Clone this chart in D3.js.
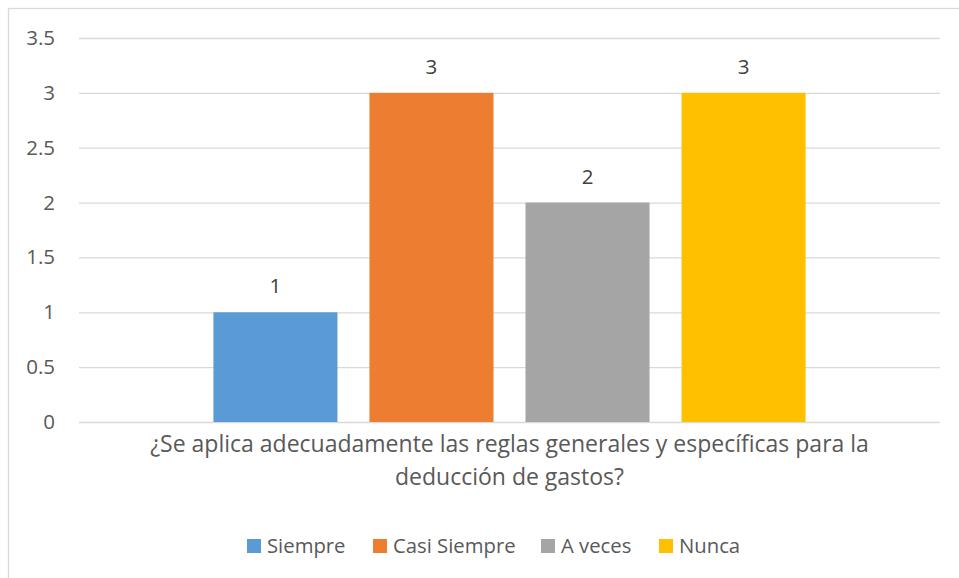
<!DOCTYPE html>
<html>
<head>
<meta charset="utf-8">
<script src="https://cdn.jsdelivr.net/npm/d3@7"></script>
<style>
  body { margin: 0; background: #fff; }
  text { font-family: "Open Sans", "Noto Sans", sans-serif; fill: #595959; }
</style>
</head>
<body>
<div id="chart"></div>
<script>
// data
var categories = ["¿Se aplica adecuadamente las reglas generales y específicas para la deducción de gastos?"];
var categoryLines = ["¿Se aplica adecuadamente las reglas generales y específicas para la", "deducción de gastos?"];
var seriesNames = ["Siempre", "Casi Siempre", "A veces", "Nunca"];
var seriesValues = [1, 3, 2, 3];
var seriesColors = ["#5B9BD5", "#ED7D31", "#A5A5A5", "#FFC000"];
var yTicks = [0, 0.5, 1, 1.5, 2, 2.5, 3, 3.5];

var W = 959, H = 578;
var plot = {left: 79, right: 940, top: 38, bottom: 422};

var svg = d3.select('#chart').append('svg')
    .attr('width', W).attr('height', H);

// chart border
svg.append('rect')
    .attr('x', 8.5).attr('y', 8.5)
    .attr('width', W).attr('height', H)
    .attr('fill', 'none').attr('stroke', '#d9d9d9').attr('stroke-width', 1.3);

var y = d3.scaleLinear().domain([0, 3.5]).range([plot.bottom, plot.top]);
var x0 = d3.scaleBand().domain(categories).range([plot.left, plot.right])
    .paddingInner(0).paddingOuter(0.227);
var x1 = d3.scaleBand().domain(seriesNames).range([0, x0.bandwidth()])
    .paddingInner(0.205).paddingOuter(0);

// gridlines + tick labels
var yAxis = d3.axisLeft(y).tickValues(yTicks)
    .tickSize(-(plot.right - plot.left))
    .tickPadding(24)
    .tickFormat(d3.format(''));
var ga = svg.append('g').attr('transform', 'translate(' + plot.left + ',0)').call(yAxis);
ga.select('.domain').remove();
ga.selectAll('.tick line').attr('stroke', '#d9d9d9').attr('stroke-width', 1.3);
ga.selectAll('.tick text').style('font-size', '20.5px')
    .style('font-family', '"Open Sans", sans-serif').attr('fill', '#595959');

// bars
var rows = seriesNames.map(function(s, i) { return {name: s, value: seriesValues[i], color: seriesColors[i]}; });
var g = svg.append('g').attr('transform', 'translate(' + x0(categories[0]) + ',0)');
g.selectAll('rect.bar').data(rows).enter().append('rect')
    .attr('class', 'bar')
    .attr('x', function(d) { return x1(d.name); })
    .attr('y', function(d) { return y(d.value); })
    .attr('width', x1.bandwidth())
    .attr('height', function(d) { return y(0) - y(d.value); })
    .attr('fill', function(d) { return d.color; });

g.selectAll('text.lbl').data(rows).enter().append('text')
    .attr('class', 'lbl')
    .attr('x', function(d) { return x1(d.name) + x1.bandwidth() / 2; })
    .attr('y', function(d) { return y(d.value) - 19; })
    .attr('text-anchor', 'middle')
    .style('font-size', '20.5px')
    .style('fill', '#404040')
    .text(function(d) { return d.value; });

// category label
var cx = x0(categories[0]) + x0.bandwidth() / 2;
svg.append('text')
    .attr('text-anchor', 'middle')
    .style('font-size', '23px')
    .selectAll('tspan').data(categoryLines).enter().append('tspan')
    .attr('x', cx)
    .attr('y', function(d, i) { return 452 + i * 33; })
    .text(function(d) { return d; });

// legend
var legendX = [247, 373, 541, 659];
var lg = svg.append('g');
rows.forEach(function(d, i) {
    lg.append('rect').attr('x', legendX[i]).attr('y', 539)
        .attr('width', 14).attr('height', 14).attr('fill', d.color);
    lg.append('text').attr('x', legendX[i] + 20).attr('y', 553)
        .style('font-size', '20.3px').text(d.name);
});
</script>
</body>
</html>
